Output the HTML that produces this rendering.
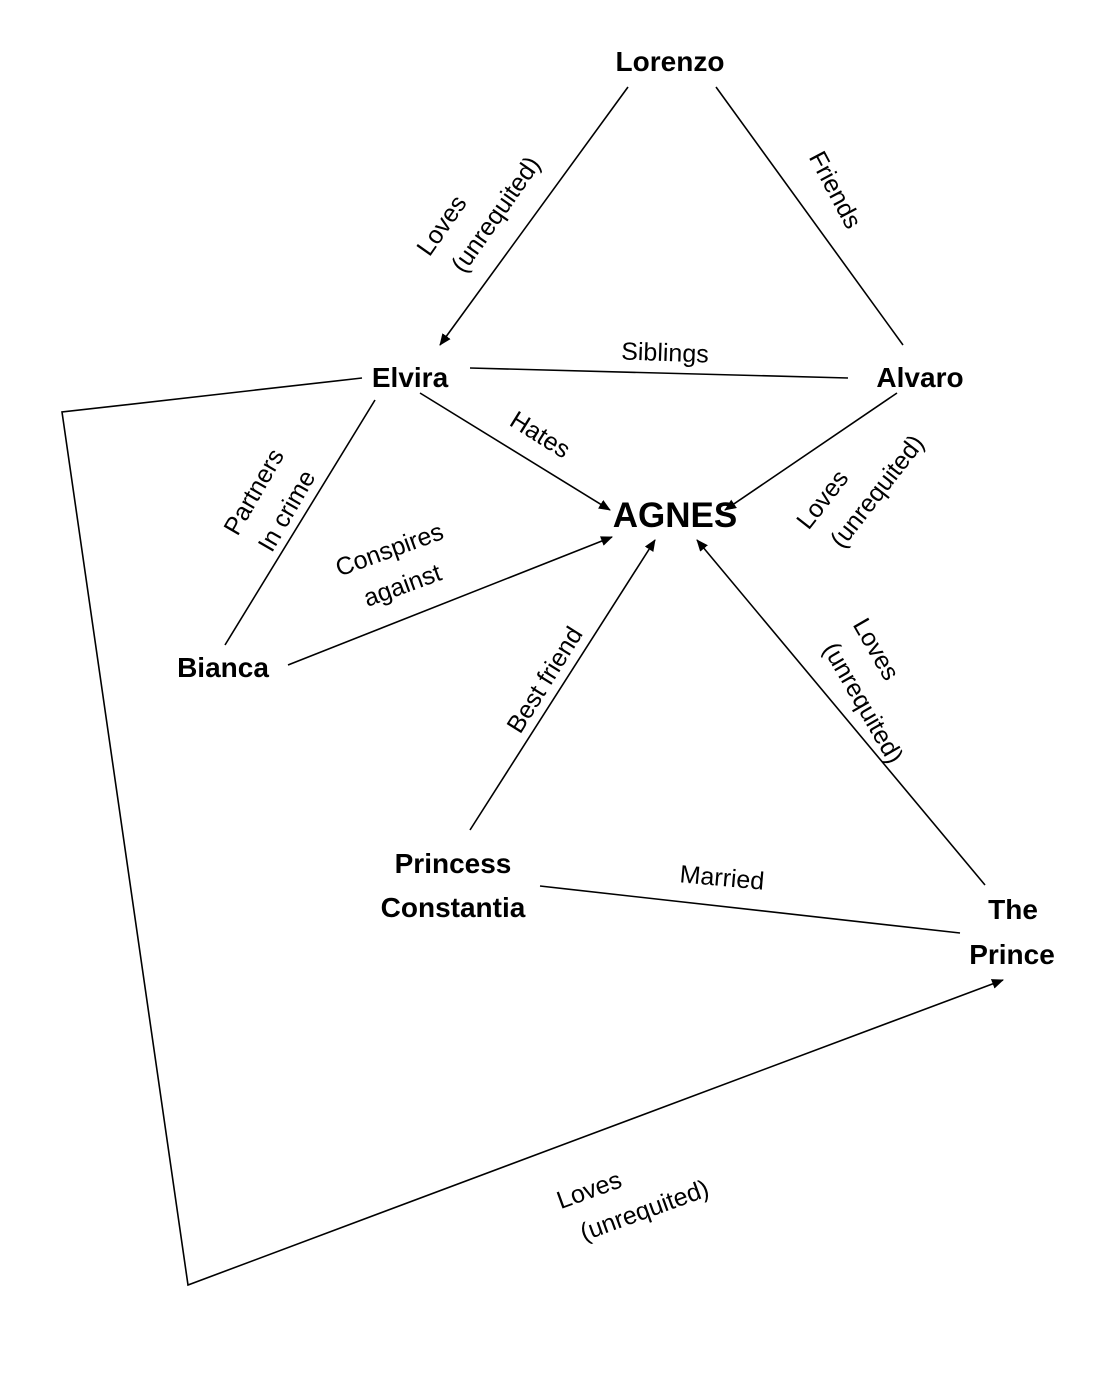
<!DOCTYPE html>
<html><head><meta charset="utf-8"><style>
html,body{margin:0;padding:0;background:#fff}
svg{display:block}
text{font-family:"Liberation Sans",sans-serif;fill:#000}
.n{font-weight:bold;font-size:28px}
.l{font-size:25px}
</style></head><body>
<svg width="1098" height="1375" viewBox="0 0 1098 1375" xmlns="http://www.w3.org/2000/svg">
<defs><marker id="a" markerWidth="12" markerHeight="10" refX="11" refY="5" orient="auto" markerUnits="userSpaceOnUse"><path d="M0,0 L12,5 L0,10 z" fill="#000"/></marker></defs>
<g stroke="#000" stroke-width="1.6" fill="none">
<line x1="628" y1="87" x2="440" y2="345" marker-end="url(#a)"/>
<line x1="716" y1="87" x2="903" y2="345"/>
<line x1="470" y1="368" x2="848" y2="378"/>
<line x1="420" y1="393" x2="610" y2="510" marker-end="url(#a)"/>
<line x1="897" y1="393" x2="725" y2="510" marker-end="url(#a)"/>
<line x1="375" y1="400" x2="225" y2="645"/>
<line x1="288" y1="665" x2="612" y2="537" marker-end="url(#a)"/>
<line x1="470" y1="830" x2="655" y2="540" marker-end="url(#a)"/>
<line x1="985" y1="885" x2="697" y2="540" marker-end="url(#a)"/>
<line x1="540" y1="886" x2="960" y2="933"/>
<polyline points="362,378 62,412 188,1285 1003,980" marker-end="url(#a)"/>
</g>
<text class="n" x="670" y="71" text-anchor="middle">Lorenzo</text>
<text class="n" x="410" y="387" text-anchor="middle">Elvira</text>
<text class="n" x="920" y="387" text-anchor="middle">Alvaro</text>
<text class="n" x="675" y="527" text-anchor="middle" style="font-size:35px">AGNES</text>
<text class="n" x="223" y="677" text-anchor="middle">Bianca</text>
<text class="n" x="453" y="873" text-anchor="middle">Princess</text>
<text class="n" x="453" y="917" text-anchor="middle">Constantia</text>
<text class="n" x="1013" y="919" text-anchor="middle">The</text>
<text class="n" x="1012" y="964" text-anchor="middle">Prince</text>
<text class="l" x="665" y="361" text-anchor="middle" transform="rotate(2 665 353)">Siblings</text>
<text class="l" text-anchor="middle" transform="translate(478,202) rotate(-55)"><tspan x="-40" y="-8">Loves</tspan><tspan x="0" y="30">(unrequited)</tspan></text>
<text class="l" text-anchor="middle" transform="translate(835,190) rotate(62)"><tspan x="0" y="8">Friends</tspan></text>
<text class="l" text-anchor="middle" transform="translate(860,478) rotate(-52)"><tspan x="-40" y="-8">Loves</tspan><tspan x="0" y="30">(unrequited)</tspan></text>
<text class="l" text-anchor="middle" transform="translate(540,435) rotate(32)"><tspan x="0" y="8">Hates</tspan></text>
<text class="l" text-anchor="middle" transform="translate(268,500) rotate(-60)"><tspan x="0" y="-8">Partners</tspan><tspan x="0" y="30">In crime</tspan></text>
<text class="l" text-anchor="middle" transform="translate(395,565) rotate(-20)"><tspan x="0" y="-8">Conspires</tspan><tspan x="0" y="30">against</tspan></text>
<text class="l" text-anchor="middle" transform="translate(545,680) rotate(-58)"><tspan x="0" y="8">Best friend</tspan></text>
<text class="l" text-anchor="middle" transform="translate(882,692) rotate(60)"><tspan x="-40" y="-8">Loves</tspan><tspan x="0" y="30">(unrequited)</tspan></text>
<text class="l" text-anchor="middle" transform="translate(722,878) rotate(5)"><tspan x="0" y="8">Married</tspan></text>
<text class="l" text-anchor="middle" transform="translate(637,1190) rotate(-20)"><tspan x="-45" y="-8">Loves</tspan><tspan x="0" y="30">(unrequited)</tspan></text>
</svg>
</body></html>
